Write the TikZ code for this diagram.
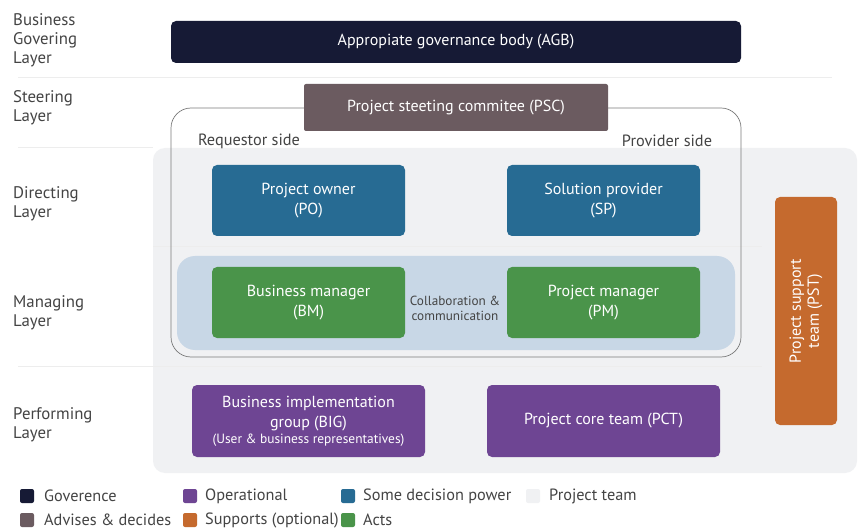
\documentclass[tikz,border=0pt]{standalone}
\usepackage{fontspec}
\setmainfont{PT Sans}
\begin{document}
\begin{tikzpicture}[x=1pt,y=-1pt,
  lbl/.style={anchor=north west,align=left,text=labelgray,font=\fontsize{16.8}{19}\selectfont,inner sep=0pt},
  box/.style={rounded corners=5pt,text=white,align=center,font=\fontsize{16}{20}\selectfont,inner sep=2pt},
  sep/.style={draw=sepgray,line width=0.8pt},
  leg/.style={rounded corners=2pt,minimum width=14pt,minimum height=14pt,inner sep=0pt},
  legt/.style={anchor=west,text=labelgray,font=\fontsize{16.3}{18}\selectfont,inner sep=0pt}]
\definecolor{navy}{HTML}{161A35}
\definecolor{mauve}{HTML}{6B5B60}
\definecolor{dblue}{HTML}{276B93}
\definecolor{dgreen}{HTML}{4A944A}
\definecolor{purp}{HTML}{6E4593}
\definecolor{orng}{HTML}{C56A2E}
\definecolor{band}{HTML}{C8D7E6}
\definecolor{teambg}{HTML}{F0F1F3}
\definecolor{outl}{HTML}{7A7A7A}
\definecolor{labelgray}{HTML}{444444}
\definecolor{sepgray}{HTML}{EDEDED}
\useasboundingbox (0,0) rectangle (862,529);
\fill[white] (0,0) rectangle (862,529);
% project team background
\fill[teambg,rounded corners=12pt] (153,148) rectangle (857,473);
% separators
\draw[sep] (18,77) -- (832,77);
\draw[sep] (18,147) -- (153,147);
\draw[sep] (153,246) -- (762,246);
\draw[sep] (18,366) -- (762,366);
% managing band
\fill[band,rounded corners=18pt] (177,256) rectangle (735,350);
% outline
\draw[outl,line width=0.7pt,rounded corners=20pt] (171,108) rectangle (741,357);
% layer labels
\node[lbl] (l1) at (13,13) {Business\\Govering\\Layer};
\node[lbl] (l2) at (13,90) {Steering\\Layer};
\node[lbl] (l3) at (13,186) {Directing\\Layer};
\node[lbl] (l4) at (13,295) {Managing\\Layer};
\node[lbl] (l5) at (13,407) {Performing\\Layer};
% boxes
\node[box,fill=navy,minimum width=570pt,minimum height=42pt] (agb) at (456,42) {Appropiate governance body (AGB)};
\node[box,fill=mauve,rounded corners=2pt,minimum width=304pt,minimum height=47pt] (psc) at (456,107.5) {Project steeting commitee (PSC)};
\node[text=labelgray,font=\fontsize{16.3}{18}\selectfont] (req) at (249,141) {Requestor side};
\node[text=labelgray,font=\fontsize{16.3}{18}\selectfont] (prov) at (667,141) {Provider side};
\node[box,fill=dblue,minimum width=193pt,minimum height=71pt] (po) at (308.5,200.5) {Project owner\\(PO)};
\node[box,fill=dblue,minimum width=193pt,minimum height=71pt] (sp) at (603.5,200.5) {Solution provider\\(SP)};
\node[box,fill=dgreen,minimum width=193pt,minimum height=71pt] (bm) at (308.5,302.5) {Business manager\\(BM)};
\node[box,fill=dgreen,minimum width=193pt,minimum height=71pt] (pm) at (603.5,302.5) {Project manager\\(PM)};
\node[align=center,text=labelgray,font=\fontsize{13.2}{15}\selectfont] (col) at (455,308) {Collaboration \&\\communication};
\node[box,fill=orng,minimum width=62pt,minimum height=228pt] (pst) at (806,311) {};
\node[text=white,align=center,rotate=90,font=\fontsize{16}{18}\selectfont] (pstt) at (pst.center) {Project support\\team (PST)};
\node[box,fill=purp,minimum width=233pt,minimum height=72pt] (big) at (308.5,421) {Business implementation\\group (BIG)\\[-4pt]{\fontsize{13.4}{16}\selectfont (User \& business representatives)}};
\node[box,fill=purp,minimum width=233pt,minimum height=72pt] (pct) at (603.5,421) {Project core team (PCT)};
% legend
\node[leg,fill=navy] (g1) at (27,496) {};
\node[legt] (t1) at (44,496) {Goverence};
\node[leg,fill=purp] (g2) at (190,496) {};
\node[legt] (t2) at (205,496) {Operational};
\node[leg,fill=dblue] (g3) at (348,496) {};
\node[legt] (t3) at (363,496) {Some decision power};
\node[leg,fill=teambg] (g4) at (533,496) {};
\node[legt] (t4) at (549,496) {Project team};
\node[leg,fill=mauve] (g5) at (27,520) {};
\node[legt] (t5) at (44,520) {Advises \& decides};
\node[leg,fill=orng] (g6) at (190,520) {};
\node[legt] (t6) at (205,520) {Supports (optional)};
\node[leg,fill=dgreen] (g7) at (348,520) {};
\node[legt] (t7) at (363,520) {Acts};
\end{tikzpicture}
\end{document}
